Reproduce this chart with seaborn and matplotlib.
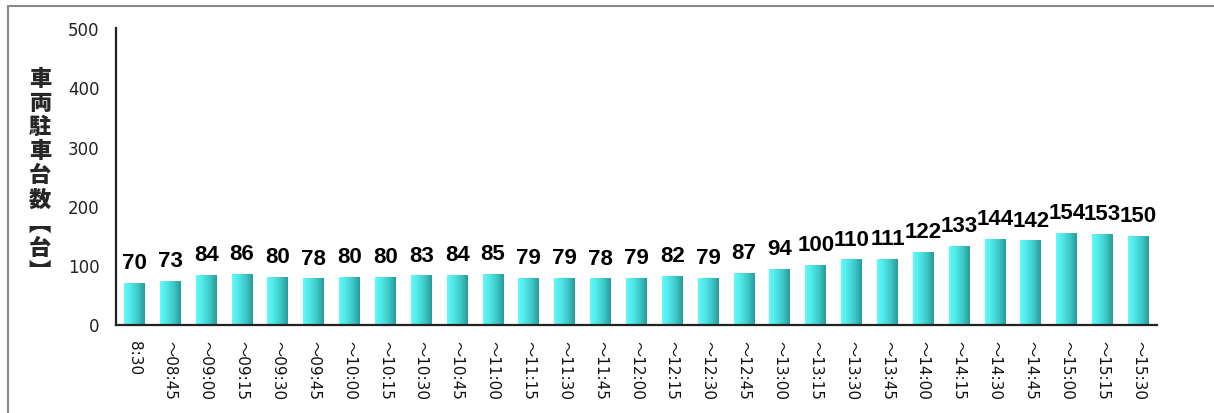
import numpy as np
import pandas as pd
import matplotlib
matplotlib.use("Agg")
import matplotlib.pyplot as plt
from matplotlib.colors import LinearSegmentedColormap
from matplotlib.lines import Line2D
import seaborn as sns

# ==========================================
# Data
# ==========================================

time_labels = [
    "8:30", "〜08:45", "〜09:00", "〜09:15", "〜09:30", "〜09:45",
    "〜10:00", "〜10:15", "〜10:30", "〜10:45", "〜11:00", "〜11:15",
    "〜11:30", "〜11:45", "〜12:00", "〜12:15", "〜12:30", "〜12:45",
    "〜13:00", "〜13:15", "〜13:30", "〜13:45", "〜14:00", "〜14:15",
    "〜14:30", "〜14:45", "〜15:00", "〜15:15", "〜15:30",
]
counts = [70, 73, 84, 86, 80, 78, 80, 80, 83, 84, 85, 79, 79, 78,
          79, 82, 79, 87, 94, 100, 110, 111, 122, 133, 144, 142,
          154, 153, 150]
y_ticks = [0, 100, 200, 300, 400, 500]
# vertical-form brackets stand for 【台】 in the stacked title
ylabel_text = "車両駐車台数︻台︼"

df = pd.DataFrame({"time": time_labels, "count": counts})

# ==========================================
# Plot
# ==========================================

sns.set_style("white")
plt.rcParams["font.family"] = ["DejaVu Sans", "Noto Sans CJK JP"]

fig = plt.figure(figsize=(12.14, 4.14), dpi=100)
ax = fig.add_axes([116 / 1214, 1 - 325.5 / 414, 1041 / 1214, (325.5 - 29) / 414])

sns.barplot(data=df, x="time", y="count", ax=ax, width=0.585,
            color="#4ee8e8", saturation=1, linewidth=0)

# horizontal gradient on each bar
grad = LinearSegmentedColormap.from_list(
    "bar", ["#60fafa", "#4fe6e6", "#3cc8c8", "#2a9a9a"])
g = np.linspace(0, 1, 64).reshape(1, -1)
for p in ax.patches:
    x0, y0 = p.get_x(), p.get_y()
    w, h = p.get_width(), p.get_height()
    ax.imshow(g, cmap=grad, aspect="auto", extent=[x0, x0 + w, y0, y0 + h],
              zorder=2, interpolation="bicubic")
    p.set_visible(False)

for i, v in enumerate(counts):
    ax.annotate(str(v), (i, v), xytext=(0, 7), textcoords="offset points",
                ha="center", va="bottom", fontsize=16, fontweight="bold",
                family="Liberation Sans", color="black")

n = len(counts)
ax.set_xlim(-0.516, n - 1 + 0.516)
ax.set_ylim(0, 500)
ax.set_yticks(y_ticks)
ax.set_yticklabels([str(t) for t in y_ticks], fontsize=12, color="#222222")
ax.set_xticks(range(n))
ax.set_xticklabels(time_labels, rotation=270, fontsize=11, color="#111111",
                   va="top", ha="center")
ax.tick_params(axis="x", length=0, pad=11)
ax.tick_params(axis="y", length=0, pad=12)
ax.set_xlabel("")
ax.set_ylabel("")

sns.despine(ax=ax)
for s in ["left", "bottom"]:
    ax.spines[s].set_color("#222222")
    ax.spines[s].set_linewidth(1.6)
    ax.spines[s].set_zorder(5)

# vertical y axis title (one stacked text)
fig.text(40 / 1214, 1 - 176 / 414, "\n".join(ylabel_text), ha="center",
         va="center", multialignment="center", linespacing=1.06,
         fontsize=16, fontweight="heavy", family="Noto Sans CJK JP")

# outer frame (left and top edges)
fig.add_artist(Line2D([8 / 1214, 8 / 1214], [0, 1 - 7 / 414],
                      transform=fig.transFigure, color="#888888", lw=1.5))
fig.add_artist(Line2D([8 / 1214, 1], [1 - 7 / 414, 1 - 7 / 414],
                      transform=fig.transFigure, color="#888888", lw=1.5))

fig.savefig("out.png", dpi=100)
plt.close()
